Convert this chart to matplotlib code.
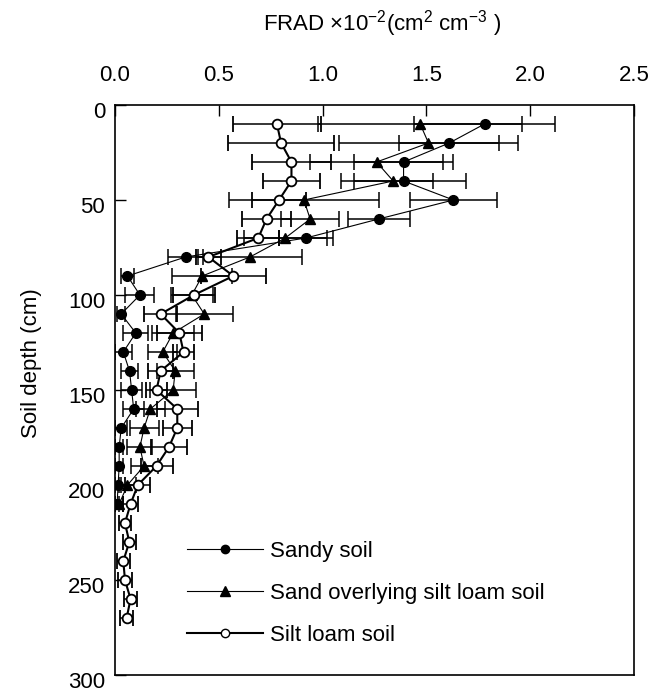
import matplotlib
matplotlib.use("Agg")
import matplotlib.pyplot as plt
import matplotlib.transforms as mtransforms
from matplotlib.lines import Line2D

plt.rcParams['font.family'] = ['Liberation Sans', 'DejaVu Sans']
plt.rcParams['mathtext.fontset'] = 'custom'
plt.rcParams['mathtext.rm'] = 'Liberation Sans'
plt.rcParams['mathtext.it'] = 'Liberation Sans'

# depth (cm) and FRAD x10^-2 values with SD
depth_sandy = [10, 20, 30, 40, 50, 60, 70, 80, 90, 100, 110, 120, 130, 140, 150,
               160, 170, 180, 190, 200, 210]
sandy = [1.78, 1.61, 1.39, 1.39, 1.63, 1.27, 0.92, 0.34, 0.06, 0.12, 0.03, 0.10,
         0.04, 0.07, 0.08, 0.09, 0.03, 0.02, 0.02, 0.015, 0.01]
sandy_sd = [0.34, 0.24, 0.24, 0.30, 0.21, 0.15, 0.13, 0.085, 0.03, 0.07, 0.02, 0.06,
            0.04, 0.04, 0.05, 0.05, 0.03, 0.02, 0.02, 0.015, 0.01]

depth_layer = [10, 20, 30, 40, 50, 60, 70, 80, 90, 100, 110, 120, 130, 140, 150,
               160, 170, 180, 190, 200, 210]
layer = [1.47, 1.51, 1.26, 1.34, 0.91, 0.94, 0.82, 0.65, 0.42, 0.37, 0.43, 0.28,
         0.23, 0.29, 0.28, 0.17, 0.14, 0.12, 0.14, 0.06, 0.02]
layer_sd = [0.49, 0.43, 0.32, 0.19, 0.36, 0.14, 0.20, 0.25, 0.145, 0.10, 0.136, 0.10,
            0.07, 0.09, 0.11, 0.07, 0.07, 0.06, 0.065, 0.04, 0.02]

depth_silt = [10, 20, 30, 40, 50, 60, 70, 80, 90, 100, 110, 120, 130, 140, 150,
              160, 170, 180, 190, 200, 210, 220, 230, 240, 250, 260, 270]
silt = [0.78, 0.80, 0.85, 0.85, 0.79, 0.73, 0.69, 0.45, 0.57, 0.38, 0.22, 0.31,
        0.33, 0.22, 0.20, 0.30, 0.30, 0.26, 0.20, 0.11, 0.075, 0.048, 0.069,
        0.04, 0.048, 0.075, 0.056]
silt_sd = [0.21, 0.255, 0.19, 0.136, 0.13, 0.12, 0.10, 0.06, 0.155, 0.10, 0.08, 0.11,
           0.05, 0.06, 0.05, 0.10, 0.07, 0.085, 0.077, 0.06, 0.035, 0.03, 0.03,
           0.03, 0.035, 0.03, 0.03]

labels = ['Sandy soil', 'Sand overlying silt loam soil', 'Silt loam soil']

fig = plt.figure(figsize=(6.59, 6.93), dpi=100)
ax = fig.add_axes([115 / 659, 1 - 675 / 693, (634 - 115) / 659, (675 - 105) / 693])

eb = dict(ecolor='black', elinewidth=1.1, capsize=5.5, capthick=1.1, color='black')
ax.errorbar(sandy, depth_sandy, xerr=sandy_sd, fmt='-o', lw=0.8, ms=7,
            mfc='black', mec='black', zorder=3, **eb)
ax.errorbar(layer, depth_layer, xerr=layer_sd, fmt='-^', lw=0.8, ms=7.5,
            mfc='black', mec='black', zorder=3, **eb)
ax.errorbar(silt, depth_silt, xerr=silt_sd, fmt='-o', lw=1.5, ms=7,
            mfc='white', mec='black', mew=1.3, zorder=4, **eb)

ax.set_xlim(0, 2.5)
ax.set_ylim(300, 0)
ax.set_xticks([0, 0.5, 1.0, 1.5, 2.0, 2.5])
ax.set_xticklabels(['0.0', '0.5', '1.0', '1.5', '2.0', '2.5'])
ax.set_yticks([0, 50, 100, 150, 200, 250, 300])
ax.xaxis.tick_top()
ax.tick_params(axis='x', direction='in', length=8, width=1, labelsize=16, pad=14,
               top=True, bottom=False)
ax.tick_params(axis='y', direction='in', length=8, width=1, labelsize=16, pad=7)
off = mtransforms.ScaledTranslation(0, -5 / 100, fig.dpi_scale_trans)
for lab in ax.get_yticklabels():
    lab.set_transform(lab.get_transform() + off)
for sp in ax.spines.values():
    sp.set_linewidth(1.2)

fig.text(382 / 659, 1 - 24 / 693,
         r'FRAD $\times$10$^{-2}$(cm$^{2}$ cm$^{-3}$ )',
         ha='center', va='center', fontsize=16)
fig.text(31 / 659, 1 - 363 / 693, 'Soil depth (cm)', rotation=90,
         ha='center', va='center', fontsize=16)

handles = [
    Line2D([], [], color='black', lw=0.8, marker='o', ms=6, mfc='black', mec='black'),
    Line2D([], [], color='black', lw=0.8, marker='^', ms=6.5, mfc='black', mec='black'),
    Line2D([], [], color='black', lw=1.5, marker='o', ms=6, mfc='white', mec='black'),
]
ax.legend(handles, labels, loc='upper left', bbox_to_anchor=(72 / 519, 1 - 436 / 570),
          frameon=False, fontsize=16, handlelength=3.4, handletextpad=0.35,
          labelspacing=0.95, borderpad=0, borderaxespad=0)

fig.savefig('out.png', dpi=100)
